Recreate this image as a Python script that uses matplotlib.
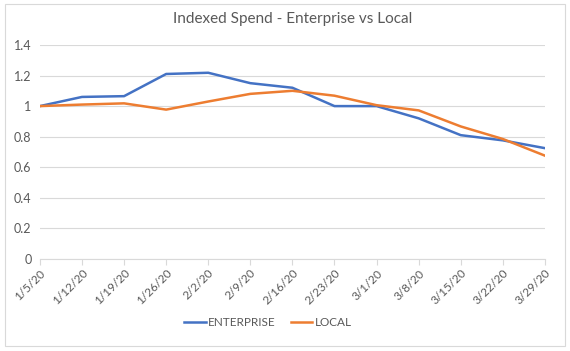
import matplotlib
matplotlib.use("Agg")
import matplotlib.pyplot as plt
from matplotlib.patches import Rectangle

plt.rcParams['font.family'] = ['Lato', 'DejaVu Sans']

dates = ['1/5/20', '1/12/20', '1/19/20', '1/26/20', '2/2/20', '2/9/20', '2/16/20',
         '2/23/20', '3/1/20', '3/8/20', '3/15/20', '3/22/20', '3/29/20']
enterprise = [1.00, 1.06, 1.065, 1.21, 1.218, 1.15, 1.12, 1.00, 1.00, 0.92, 0.81, 0.776, 0.725]
local = [1.00, 1.01, 1.018, 0.977, 1.03, 1.08, 1.10, 1.068, 1.006, 0.972, 0.867, 0.785, 0.676]

grey = '#595959'
fig = plt.figure(figsize=(5.7, 3.51), dpi=100)
fig.patches.append(Rectangle((0.009, 0.015), 0.982, 0.975, transform=fig.transFigure,
                             fill=False, edgecolor='#d9d9d9', linewidth=0.8))

ax = fig.add_axes([0.070, 0.262, 0.886, 0.610])
x = list(range(len(dates)))
ax.plot(x, enterprise, color='#4472C4', linewidth=1.8, label='ENTERPRISE')
ax.plot(x, local, color='#ED7D31', linewidth=1.8, label='LOCAL')

ax.set_xlim(0, len(dates) - 1)
ax.set_ylim(0, 1.4)
ax.set_yticks([0, 0.2, 0.4, 0.6, 0.8, 1.0, 1.2, 1.4])
ax.set_yticklabels(['0', '0.2', '0.4', '0.6', '0.8', '1', '1.2', '1.4'])
ax.set_xticks(x)
ax.set_xticklabels(dates, rotation=45, ha='right', rotation_mode='anchor')
ax.grid(axis='y', color='#d9d9d9', linewidth=0.8)
ax.set_axisbelow(True)
for s in ['top', 'right', 'left']:
    ax.spines[s].set_visible(False)
ax.spines['bottom'].set_color('#d9d9d9')
ax.tick_params(axis='y', length=0, labelsize=9, colors=grey, pad=6)
ax.tick_params(axis='x', length=4, color='#d9d9d9', labelsize=8.5, labelcolor=grey, pad=2)

ax.set_title('Indexed Spend - Enterprise vs Local', color=grey, fontsize=11, pad=16)
fig.legend(loc='center', bbox_to_anchor=(0.47, 0.08), ncol=2, frameon=False,
           fontsize=8.5, labelcolor=grey, handlelength=1.8, handletextpad=0.2,
           columnspacing=1.3)

fig.savefig('out.png', dpi=100)
